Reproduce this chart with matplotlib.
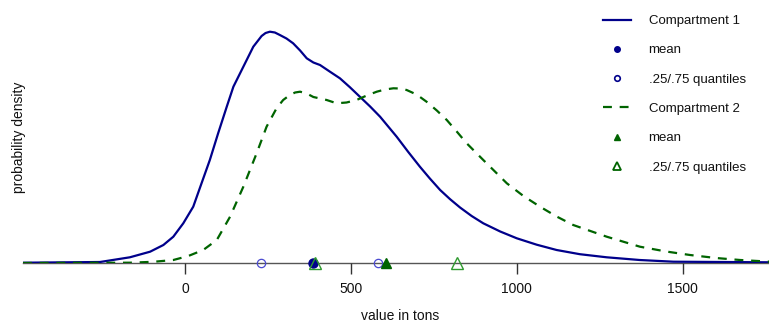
import matplotlib
matplotlib.use("Agg")
import matplotlib.pyplot as plt
from matplotlib.lines import Line2D

plt.rcParams['font.family'] = ['Liberation Sans', 'DejaVu Sans']

# density curves (x in tons, density in 1e-5 units)
x_c1 = [-488, -256, -166, -105, -65, -35, -5, 25, 50, 75, 100, 126, 146, 176, 206,
        231, 243, 256, 271, 286, 306, 326, 347, 367, 387, 407, 437, 467, 497, 527, 558, 588,
        638, 673, 708, 738, 769, 799, 829, 864, 899, 950, 1000, 1060, 1120, 1190, 1271, 1370,
        1472, 1763]
d_c1 = [0.3, 1.0, 5.7, 11.3, 18, 26.3, 39.7, 56.3, 79.7, 103, 129.7, 156.3, 176.3, 196.3, 216.3,
        227, 230, 231.3, 230.5, 228, 224.5, 219.7, 212.5, 204.7, 200.5, 198, 191.3, 184.7, 175.8,
        166.3, 156.5, 146.3, 126.3, 111, 96.3, 84.5, 73, 63.8, 55.5, 47, 39.7, 31.5, 24.7, 18.3,
        13, 8.8, 5.7, 3.0, 1.3, 0.7]

x_c2 = [-488, -166, -95, -35, 10, 55, 96, 136, 176, 216, 246, 276, 296, 316, 332, 347, 367,
        387, 427, 457, 487, 517, 548, 578, 603, 628, 648, 668, 698, 728, 759, 789, 819, 849,
        899, 970, 1020, 1070, 1120, 1170, 1271, 1371, 1450, 1522, 1600, 1673, 1763]
d_c2 = [0, 0.3, 1.2, 3, 7, 13, 23, 46.3, 76.3, 109.7, 136.3, 154.7, 163, 168, 170.5, 171.3, 169.5,
        166, 163, 159.7, 160.5, 163, 167.5, 171.3, 173.5, 174.7, 174.5, 173, 168.5, 161.3, 152.5,
        143, 131.5, 119.7, 103, 79.7, 67, 56.3, 46.5, 38, 26.3, 16.3, 11.5, 8, 5, 3, 1.3]

mean_c1 = 387
quant_c1 = [229, 581]
mean_c2 = 605
quant_c2 = [392, 821]

xticks = [0, 500, 1000, 1500]

c1 = '#00008b'
c1_light = '#4a4ad0'
c2 = '#006400'
c2_light = '#2f9a2f'

W, H = 769, 323
fig = plt.figure(figsize=(W / 100, H / 100), dpi=100)
ax = fig.add_axes([23 / W, (H - 263) / H, (W - 23) / W, (263 - 20) / H])

sc = 1e-5
ax.plot(x_c1, [v * sc for v in d_c1], color=c1, lw=1.6)
ax.plot(x_c2, [v * sc for v in d_c2], color=c2, lw=1.6, dashes=(4, 3.5))

ax.axhline(0, color='#555555', lw=1.0, zorder=1, clip_on=False)

ax.plot(quant_c1, [0, 0], 'o', mfc='none', mec=c1_light, ms=6, mew=0.9, clip_on=False)
ax.plot([mean_c1], [0], 'o', color=c1, ms=6.5, clip_on=False)
ax.plot([mean_c2], [0.1e-5], '^', color=c2, ms=6.5, clip_on=False)
ax.plot(quant_c2, [0.3e-5, 0.3e-5], '^', mfc='none', mec=c2_light, ms=8, mew=1.0, clip_on=False)

ax.set_xlim(-488, 1760)
ax.set_ylim(0, 243 * sc)
for s in ax.spines.values():
    s.set_visible(False)
ax.set_yticks([])
ax.set_xticks(xticks)
ax.set_xticklabels([str(t) for t in xticks])
ax.tick_params(axis='x', length=8, width=1.0, color='#333333', labelsize=10,
               pad=6, labelcolor='#111111')

fig.text(400 / W, 1 - 316 / H, 'value in tons', ha='center', va='center',
         fontsize=10, color='#111111')
fig.text(19 / W, 1 - 137 / H, 'probability density', ha='center', va='center',
         rotation=90, fontsize=10, color='#111111')

handles = [
    Line2D([], [], color=c1, lw=1.6),
    Line2D([], [], ls='none', marker='o', color=c1, ms=4),
    Line2D([], [], ls='none', marker='o', mfc='none', mec=c1, ms=4, mew=1.2),
    Line2D([], [], color=c2, lw=1.6, dashes=(4, 3.5)),
    Line2D([], [], ls='none', marker='^', color=c2, ms=5),
    Line2D([], [], ls='none', marker='^', mfc='none', mec=c2, ms=6, mew=1.3),
]
labels = ['Compartment 1', 'mean', '.25/.75 quantiles',
          'Compartment 2', 'mean', '.25/.75 quantiles']
fig.legend(handles, labels, loc='upper left', bbox_to_anchor=(603 / W, 1 - 15 / H),
           frameon=False, fontsize=9.5, labelspacing=1.29, handlelength=2.1,
           handletextpad=1.35, borderpad=0, borderaxespad=0, labelcolor='#111111')

fig.savefig('out.png', dpi=100)
